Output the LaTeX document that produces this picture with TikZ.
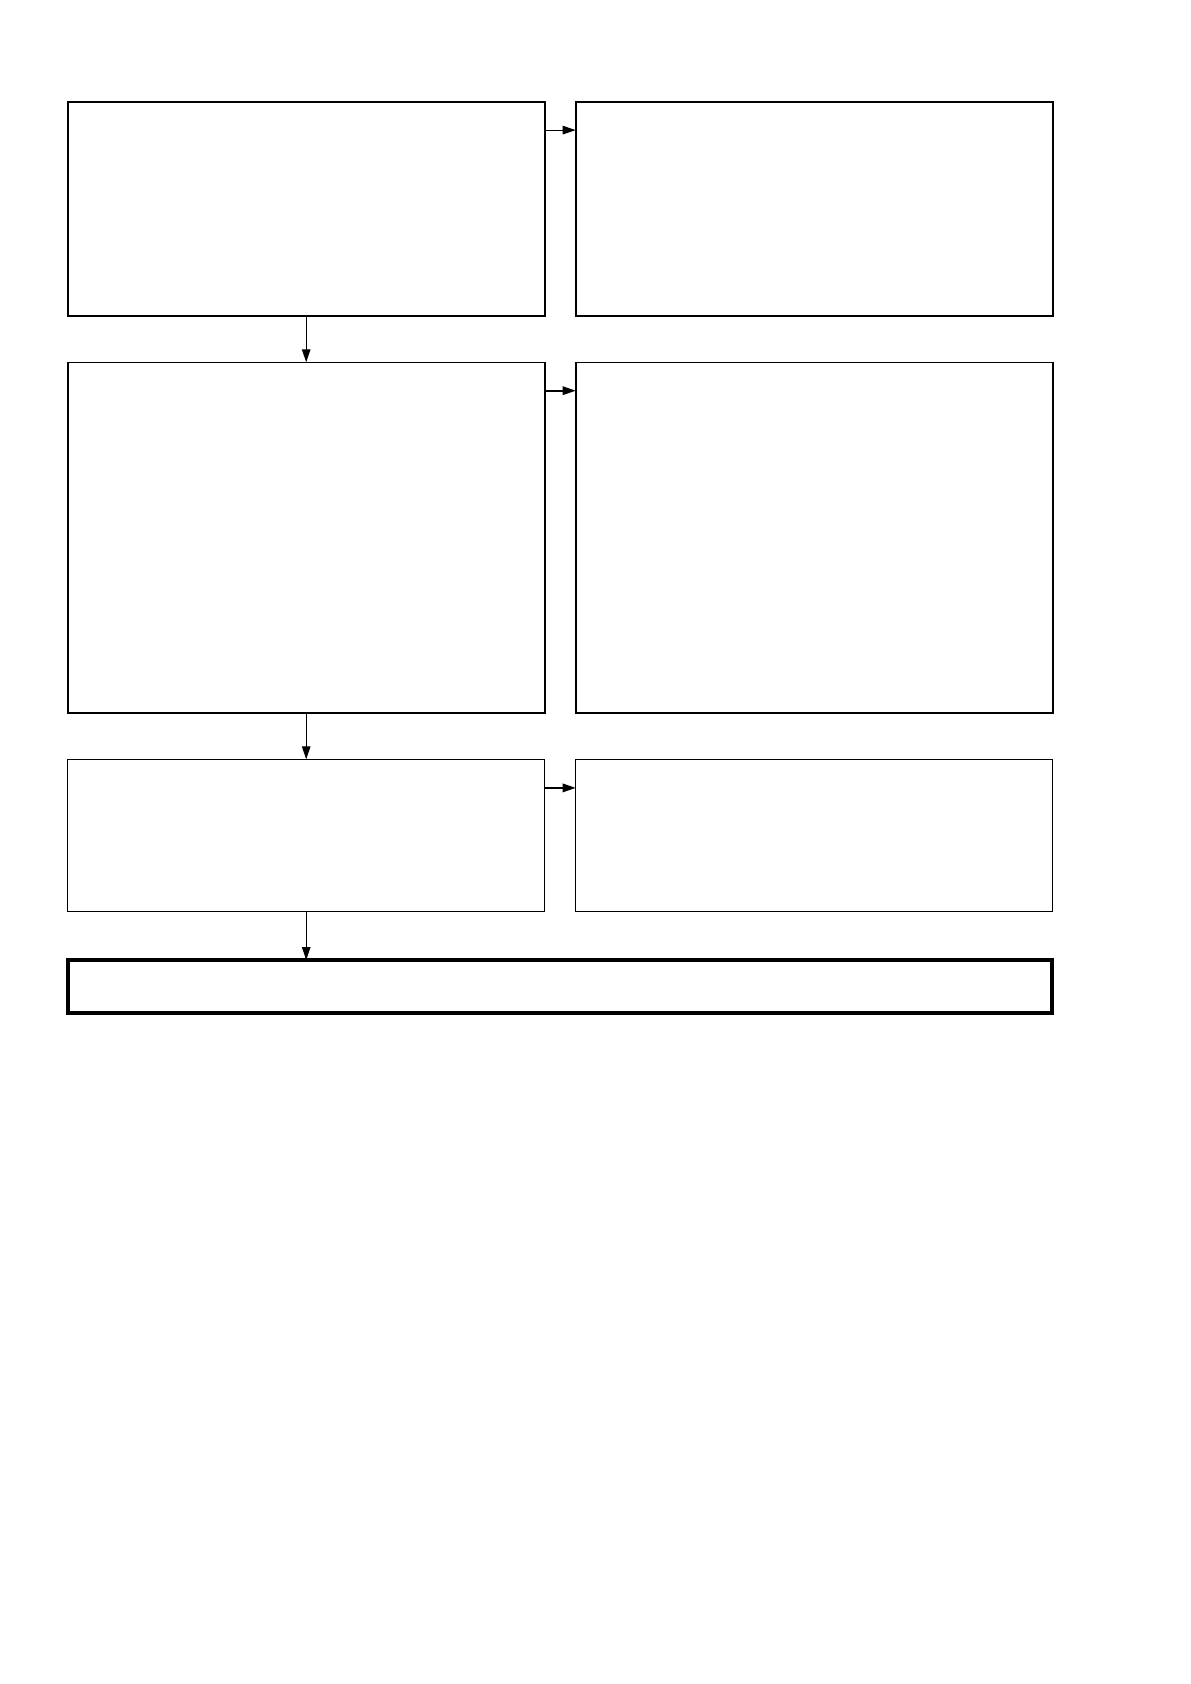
\documentclass[tikz,border=0pt]{standalone}
\usetikzlibrary{arrows.meta}
\begin{document}
\begin{tikzpicture}[x=1pt,y=-1pt,
  box/.style={draw=black, rectangle, inner sep=0pt, outer sep=0pt, anchor=north west, minimum width=477pt},
  thickbox/.style={box, line width=1.6pt},
  thinbox/.style={box, line width=1pt},
  finbox/.style={box, line width=3.6pt, minimum width=984pt, minimum height=52.7pt},
  arr/.style={-{Triangle[length=13pt,width=8.5pt]}, line width=1pt},
  harr/.style={arr, line width=1.6pt}]
\useasboundingbox (0,0) rectangle (1191,1684);
\fill[white] (0,0) rectangle (1191,1684);
% row 1
\node[thickbox, minimum height=214pt] (a1) at (67.7,101.7) {};
\node[thickbox, minimum height=214pt] (b1) at (575.7,101.7) {};
% row 2
\node[thickbox, minimum height=350.4pt] (a2) at (67.7,362.3) {};
\node[thickbox, minimum height=350.4pt] (b2) at (575.7,362.3) {};
% row 3
\node[thinbox, minimum height=151.7pt] (a3) at (67.7,759.3) {};
\node[thinbox, minimum height=151.7pt] (b3) at (575.7,759.3) {};
% final
\node[finbox] (fin) at (68,960) {};
% horizontal arrows
\path (a1.north east) ++(0,28.4) coordinate (h1);
\path (a2.north east) ++(0,28.4) coordinate (h2);
\path (a3.north east) ++(0,28.6) coordinate (h3);
\draw[arr] (h1) -- (h1 -| b1.west);
\draw[harr] (h2) -- (h2 -| b2.west);
\draw[harr] (h3) -- (h3 -| b3.west);
% vertical arrows
\draw[arr] (a1.south) -- (a2.north);
\draw[arr] (a2.south) -- (a3.north);
\draw[arr] (a3.south) -- (a3.south |- fin.north);
\end{tikzpicture}
\end{document}
